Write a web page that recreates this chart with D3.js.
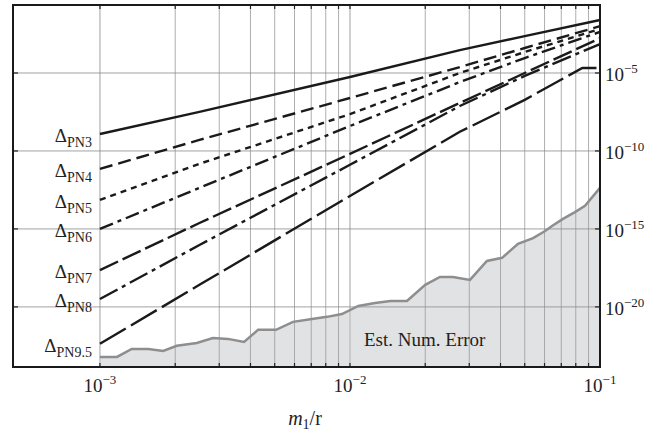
<!DOCTYPE html>
<html>
<head>
<meta charset="utf-8">
<script src="https://cdn.jsdelivr.net/npm/d3@7"></script>
<style>
  body { margin: 0; background: #fff; }
  text { font-family: "Liberation Serif", "Times New Roman", serif; fill: #222; }
</style>
</head>
<body>
<script>
// values (log-log)
var mr = [0.001, 0.0025, 0.01, 0.0275, 0.05, 0.1];
var mrPN95 = [0.001, 0.0025, 0.01, 0.0275, 0.05, 0.085, 0.1];

var dPN3 = [1.23e-9, 3.2e-8, 5.5e-6, 2.95e-4, 2.3e-3, 2.5e-2];
var dPN4 = [7.1e-12, 5.1e-10, 2.5e-7, 2.4e-5, 4.0e-4, 1.0e-2];
var dPN5 = [7.2e-14, 1.5e-11, 2.3e-8, 1.0e-5, 2.2e-4, 6.6e-3];
var dPN6 = [1.0e-15, 4.3e-13, 4.0e-9, 2.6e-6, 9.1e-5, 4.3e-3];
var dPN7 = [2.3e-18, 2.4e-15, 6.5e-11, 1.2e-7, 1.0e-5, 1.7e-3];
var dPN8 = [3.2e-20, 9.3e-17, 1.3e-11, 7.6e-8, 6.5e-6, 7.2e-4];
var dPN95 = [4.3e-23, 2.6e-19, 1.3e-13, 1.7e-9, 1.9e-7, 2.1e-5, 2.1e-5];

var mrErr = [1.0e-3, 1.17e-3, 1.34e-3, 1.56e-3, 1.79e-3, 2.03e-3, 2.44e-3, 2.83e-3,
  3.25e-3, 3.77e-3, 4.29e-3, 5.06e-3, 5.92e-3, 7.05e-3, 8.09e-3, 9.29e-3, 1.08e-2,
  1.26e-2, 1.45e-2, 1.69e-2, 2.0e-2, 2.29e-2, 2.58e-2, 3.02e-2, 3.53e-2, 4.06e-2,
  4.7e-2, 5.4e-2, 6.03e-2, 6.43e-2, 7.11e-2, 7.94e-2, 8.71e-2, 0.1];
var numErr = [6.2e-24, 6.2e-24, 2.0e-23, 2.0e-23, 1.5e-23, 3.2e-23, 4.9e-23, 1.0e-22,
  8.9e-23, 5.7e-23, 3.4e-22, 3.4e-22, 1.1e-21, 1.7e-21, 2.3e-21, 3.5e-21, 1.15e-20,
  1.8e-20, 2.4e-20, 2.4e-20, 2.6e-19, 8.3e-19, 8.3e-19, 5.4e-19, 8.9e-18, 1.4e-17,
  1.1e-16, 2.6e-16, 7.4e-16, 1.55e-15, 4.4e-15, 1.2e-14, 3.0e-14, 4.3e-13];

var seriesNames = ["PN3", "PN4", "PN5", "PN6", "PN7", "PN8", "PN9.5"];
var seriesVals = [dPN3, dPN4, dPN5, dPN6, dPN7, dPN8, dPN95];
var seriesX = [mr, mr, mr, mr, mr, mr, mrPN95];
var dashes = ["none", "13,6", "6,5", "14,5,4,5", "20,5", "20,5,4,5", "30,6"];

var yTicks = [1e-5, 1e-10, 1e-15, 1e-20];
var xLabelTicks = [1e-3, 1e-2, 1e-1];

var width = 667, height = 436;
var plotL = 13, plotR = 600, plotT = 5, plotB = 367;

var x = d3.scaleLog().domain([4.49e-4, 0.1]).range([plotL, plotR]);
var y = d3.scaleLog().domain([1.4e-24, 0.229]).range([plotB, plotT]);

var svg = d3.select("body").append("svg")
  .attr("width", width)
  .attr("height", height);

// error band
var errPts = mrErr.map(function(m, i) { return [m, numErr[i]]; });
svg.append("path")
  .datum(errPts)
  .attr("d", d3.area()
    .x(function(d) { return x(d[0]); })
    .y0(plotB)
    .y1(function(d) { return y(d[1]); }))
  .attr("fill", "#e1e2e4");

// grid
var xGrid = [];
[1e-3, 1e-2].forEach(function(dec) {
  for (var k = 1; k <= 9; k++) xGrid.push(dec * k);
});
svg.append("g").selectAll("line")
  .data(xGrid)
  .enter().append("line")
  .attr("x1", function(d) { return x(d); })
  .attr("x2", function(d) { return x(d); })
  .attr("y1", plotT).attr("y2", plotB)
  .attr("stroke", function(d, i) { return i % 9 === 0 ? "#c4c4c4" : "#9a9a9a"; })
  .attr("stroke-width", function(d, i) { return i % 9 === 0 ? 1.6 : 0.8; });

svg.append("g").selectAll("line")
  .data(yTicks)
  .enter().append("line")
  .attr("x1", plotL).attr("x2", plotR)
  .attr("y1", function(d) { return y(d); })
  .attr("y2", function(d) { return y(d); })
  .attr("stroke", "#8a8a8a")
  .attr("stroke-width", 0.8);

// error curve
svg.append("path")
  .datum(errPts)
  .attr("d", d3.line()
    .x(function(d) { return x(d[0]); })
    .y(function(d) { return y(d[1]); }))
  .attr("fill", "none")
  .attr("stroke", "#8e8e8e")
  .attr("stroke-width", 2.5);

// ticks
var tk = svg.append("g").attr("stroke", "#222").attr("stroke-width", 1.2);
xGrid.concat([0.1]).forEach(function(d) {
  tk.append("line").attr("x1", x(d)).attr("x2", x(d)).attr("y1", plotB).attr("y2", plotB - 4);
  tk.append("line").attr("x1", x(d)).attr("x2", x(d)).attr("y1", plotT).attr("y2", plotT + 4);
});
yTicks.forEach(function(d) {
  tk.append("line").attr("x1", plotL).attr("x2", plotL + 5).attr("y1", y(d)).attr("y2", y(d));
  tk.append("line").attr("x1", plotR).attr("x2", plotR - 5).attr("y1", y(d)).attr("y2", y(d));
});

// PN lines
var line = d3.line()
  .x(function(d) { return x(d[0]); })
  .y(function(d) { return y(d[1]); });

seriesNames.forEach(function(name, i) {
  var pts = seriesX[i].map(function(m, j) { return [m, seriesVals[i][j]]; });
  svg.append("path")
    .datum(pts)
    .attr("d", line)
    .attr("fill", "none")
    .attr("stroke", "#1a1a1a")
    .attr("stroke-width", 2.4)
    .attr("stroke-dasharray", dashes[i]);

  var lab = svg.append("text")
    .attr("x", x(seriesX[i][0]) - 8)
    .attr("y", y(seriesVals[i][0]) + 8)
    .attr("text-anchor", "end")
    .style("font-size", "19px");
  lab.append("tspan").text("\u0394");
  lab.append("tspan").attr("dy", 5).style("font-size", "14px").text(name);
});

// frame
svg.append("rect")
  .attr("x", plotL).attr("y", plotT)
  .attr("width", plotR - plotL).attr("height", plotB - plotT)
  .attr("fill", "none")
  .attr("stroke", "#1a1a1a")
  .attr("stroke-width", 2);

// tick labels
function powLabel(sel, exp) {
  sel.append("tspan").text("10");
  sel.append("tspan").attr("dy", -8).style("font-size", "13px").text("\u2212" + exp);
}

xLabelTicks.forEach(function(d) {
  var t = svg.append("text")
    .attr("x", x(d)).attr("y", 392)
    .attr("text-anchor", "middle")
    .style("font-size", "19px");
  powLabel(t, Math.round(-Math.log10(d)));
});

yTicks.forEach(function(d) {
  var t = svg.append("text")
    .attr("x", 605).attr("y", y(d) + 8)
    .style("font-size", "19px");
  powLabel(t, Math.round(-Math.log10(d)));
});

// axis title
var xt = svg.append("text")
  .attr("x", 305).attr("y", 425)
  .attr("text-anchor", "middle")
  .style("font-size", "20px");
xt.append("tspan").style("font-style", "italic").text("m");
xt.append("tspan").attr("dy", 4).style("font-size", "14px").text("1");
xt.append("tspan").attr("dy", -4).text("/r");

svg.append("text")
  .attr("x", 364).attr("y", 346)
  .style("font-size", "19px")
  .text("Est. Num. Error");
</script>
</body>
</html>
